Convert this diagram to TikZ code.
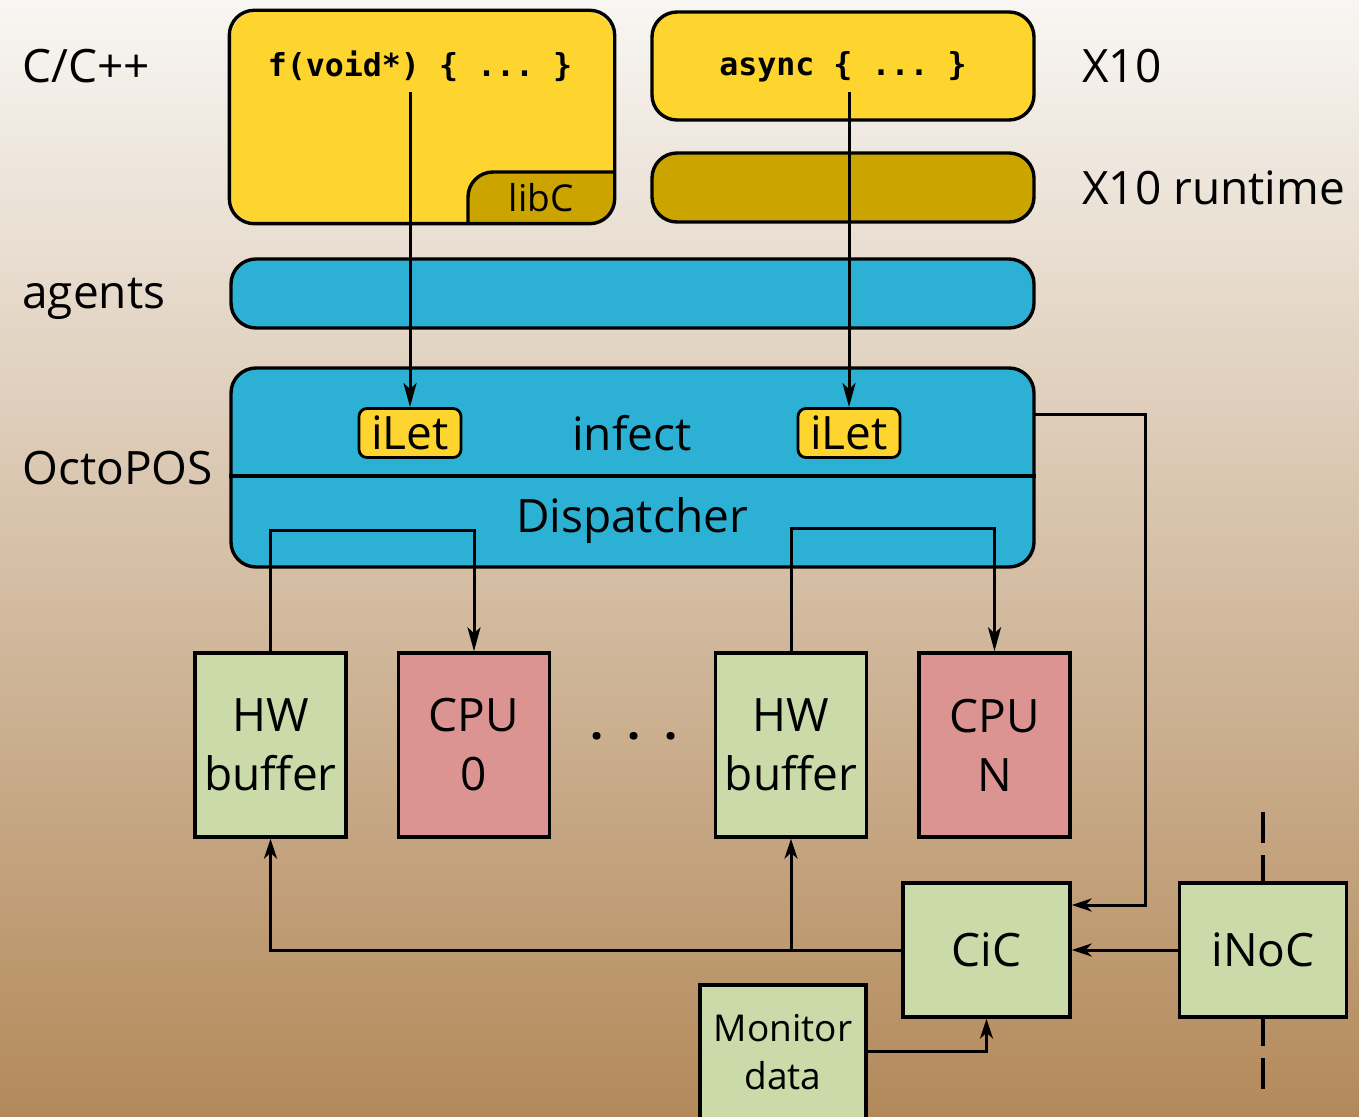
\documentclass[tikz,border=0pt]{standalone}
\usepackage{fontspec}
\setmainfont{Open Sans}
\setmonofont{DejaVu Sans Mono}
\usetikzlibrary{arrows.meta}

\definecolor{bgtop}{RGB}{248,246,243}
\definecolor{bgbot}{RGB}{179,137,90}
\definecolor{lang}{RGB}{254,213,46}
\definecolor{runtime}{RGB}{204,164,0}
\definecolor{osblue}{RGB}{44,177,213}
\definecolor{hwgreen}{RGB}{203,218,169}
\definecolor{cpupink}{RGB}{219,148,145}

\newcommand\lblfont{\fontsize{23}{29.5}\selectfont}
\newcommand\smallfont{\fontsize{18.5}{24}\selectfont}
\newcommand\codefont{\fontsize{15.8}{18}\selectfont\ttfamily\bfseries}

\tikzset{
  layer/.style={line width=1.7pt, rounded corners=12.5pt, inner sep=0pt},
  block/.style={draw, line width=1.7pt, minimum width=75.5pt, minimum height=92pt,
                align=center, font=\lblfont, inner sep=0pt},
  ctrl/.style={draw, line width=1.7pt, minimum width=83.5pt, minimum height=67pt,
               fill=hwgreen, align=center, font=\lblfont, inner sep=0pt},
  tag/.style={font=\lblfont, inner sep=0pt},
  side/.style={font=\lblfont, inner sep=0pt, anchor=west},
  ilet/.style={draw, line width=1.4pt, fill=lang, rounded corners=4pt,
               minimum width=51pt, minimum height=24.5pt, font=\lblfont, inner sep=0pt},
  toparrow/.style={line width=1.5pt, -{Stealth[length=12pt,width=6.5pt,inset=3pt]}},
  conn/.style={line width=1.5pt, -{Stealth[length=10pt,width=6.5pt,inset=3pt]}},
  netline/.style={line width=2pt, dash pattern=on 15.5pt off 6pt},
}

\begin{document}
\begin{tikzpicture}[x=0.5pt,y=-0.5pt]
  % page and background
  \useasboundingbox (0,0) rectangle (1359,1117);
  \shade[top color=bgtop, bottom color=bgbot] (0,0) rectangle (1359,1117);
  \clip (0,0) rectangle (1359,1117);

  % language layer: C/C++ with libC in its corner
  \node[layer, fill=lang, minimum width=191pt, minimum height=105pt] (cbox) at (422,117) {};
  \begin{scope}
    \clip[rounded corners=12.5pt] (cbox.north west) rectangle (cbox.south east);
    \filldraw[fill=runtime, line width=1.7pt, rounded corners=12.5pt]
      (468,260) -- (468,172) -- (680,172) -- (680,260) -- cycle;
  \end{scope}
  \draw[line width=1.7pt, rounded corners=12.5pt] (cbox.north west) rectangle (cbox.south east);
  \node[font=\smallfont, inner sep=0pt] (libc) at (541,198) {libC};
  \node[inner sep=0pt] (fcode) at (420,66) {\codefont f(void*) \{ ... \}};

  % X10 and its runtime
  \node[layer, draw, fill=lang, minimum width=191pt, minimum height=54pt] (xbox) at (843,66) {};
  \node[inner sep=0pt] (acode) at (843,67) {\codefont async \{ ... \}};
  \node[layer, draw, fill=runtime, minimum width=191pt, minimum height=34.5pt] (xrt) at (843,187.5) {};

  % agents layer
  \node[layer, draw, fill=osblue, minimum width=401.5pt, minimum height=34.5pt] (agents) at (632.5,293.5) {};

  % OctoPOS layer with infect / dispatcher parts
  \node[layer, draw, fill=osblue, minimum width=401.5pt, minimum height=99.5pt] (os) at (632.5,467.5) {};
  \draw[line width=1.7pt] (os.west |- 0,476) -- (os.east |- 0,476);
  \node[ilet] (ilet1) at (410,433) {iLet};
  \node[ilet] (ilet2) at (849,433) {iLet};
  \node[tag] (infect) at (632,433) {infect};
  \node[tag] (disp) at (632,521) {Dispatcher};

  % side labels
  \node[side] (lcpp) at (22,66) {C/C++};
  \node[side] (lagents) at (22,299) {agents};
  \node[side] (locto) at (22,468) {OctoPOS};
  \node[side] (lx10) at (1082,66) {X10};
  \node[side] (lx10rt) at (1082,188) {X10 runtime};

  % hardware blocks
  \node[block, fill=hwgreen] (hw1) at (270.5,745) {HW\\buffer};
  \node[block, fill=cpupink] (cpu0) at (474,745) {CPU\\0};
  \node[block, fill=hwgreen] (hw2) at (791,745) {HW\\buffer};
  \node[block, fill=cpupink] (cpun) at (994.5,745) {CPU\\N};
  \node[tag] (dots) at (634,736) {\textbf{.}\hspace{12pt}\textbf{.}\hspace{12pt}\textbf{.}};

  \node[ctrl] (cic) at (986.5,950) {CiC};
  \node[ctrl] (inoc) at (1263,950) {iNoC};
  \node[draw, line width=1.7pt, fill=hwgreen, minimum width=83pt, minimum height=72pt,
        inner sep=0pt] (mon) at (783,1057) {};
  \node[font=\smallfont, align=center, inner sep=0pt] (montext) at (783,1052) {Monitor\\data};

  % calls from the languages into iLets
  \coordinate (fstart) at (410,92);
  \coordinate (astart) at (849,92);
  \draw[toparrow] (fstart) -- (ilet1.north);
  \draw[toparrow] (astart) -- (ilet2.north);

  % dispatcher paths from buffers to CPUs
  \draw[toparrow] (hw1.north) -- (hw1.north |- 0,530) -| (cpu0.north);
  \draw[toparrow] (hw2.north) -- (hw2.north |- 0,528) -| (cpun.north);

  % OctoPOS to CiC
  \coordinate (osout) at (1034,414);
  \coordinate (osbend) at (1145,414);
  \draw[conn] (osout) -- (osbend) |- (cic.east |- 0,905);

  % iNoC to CiC
  \draw[conn] (inoc.west) -- (cic.east);

  % CiC to buffers
  \draw[conn] (cic.west) -| (hw1.south);
  \coordinate (split) at (hw2.south |- cic.west);
  \draw[conn] (split) -- (hw2.south);

  % monitor data to CiC
  \draw[conn] (mon.east |- 0,1051) -| (cic.south);

  % network links of the iNoC
  \coordinate (ntop) at (1263,812);
  \coordinate (nbot) at (1263,1089);
  \draw[netline] (ntop) -- (inoc.north);
  \draw[netline] (nbot) -- (inoc.south);
\end{tikzpicture}
\end{document}
